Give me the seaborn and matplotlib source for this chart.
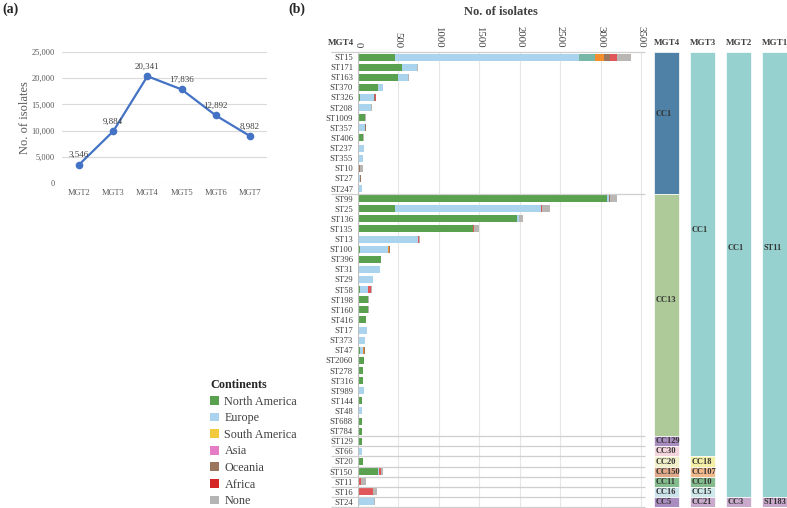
import matplotlib
matplotlib.use("Agg")
import matplotlib.pyplot as plt
from matplotlib.patches import Patch
from matplotlib.ticker import FuncFormatter
import seaborn as sns
import pandas as pd

# (a) isolates per MGT level
mgt_levels = ["MGT2", "MGT3", "MGT4", "MGT5", "MGT6", "MGT7"]
isolates_per_level = [3546, 9884, 20341, 17836, 12892, 8982]

# (b) sequence types, read top to bottom
st_names = ["ST15", "ST171", "ST163", "ST370", "ST326", "ST208", "ST1009", "ST357", "ST406",
            "ST237", "ST355", "ST10", "ST27", "ST247",
            "ST99", "ST25", "ST136", "ST135", "ST13", "ST100", "ST396", "ST31", "ST29", "ST58",
            "ST198", "ST160", "ST416", "ST17", "ST373", "ST47", "ST2060", "ST278", "ST316",
            "ST989", "ST144", "ST48", "ST688", "ST784",
            "ST129", "ST66", "ST20", "ST150", "ST11", "ST16", "ST24"]
north_america = [465, 548, 498, 247, 25, 0, 91, 0, 66, 0, 0, 12, 0, 0,
                 3075, 457, 1972, 1424, 12, 33, 292, 8, 8, 33, 131, 131, 107, 0, 0, 28, 74, 70, 70,
                 0, 53, 0, 53, 49,
                 53, 0, 62, 250, 0, 0, 0]
europe = [2272, 189, 128, 62, 181, 169, 0, 86, 0, 74, 62, 0, 29, 49,
          30, 1803, 25, 0, 733, 341, 0, 263, 177, 94, 0, 0, 0, 115, 90, 41, 0, 0, 0,
          74, 0, 53, 0, 0,
          0, 58, 0, 17, 0, 0, 205]
south_america = [198, 0, 0, 0, 0, 0, 0, 0, 0, 0, 0, 0, 0, 0,
                 0, 0, 0, 0, 0, 0, 0, 0, 0, 0, 0, 0, 0, 0, 0, 0, 0, 0, 0,
                 0, 0, 0, 0, 0,
                 0, 0, 8, 0, 0, 0, 0]
asia = [107, 0, 0, 0, 0, 0, 0, 0, 0, 0, 0, 0, 0, 0,
        0, 0, 0, 0, 0, 10, 0, 0, 0, 0, 0, 0, 0, 0, 0, 8, 0, 0, 0,
        0, 0, 0, 0, 0,
        0, 0, 0, 0, 0, 0, 0]
oceania = [74, 0, 0, 0, 6, 0, 0, 12, 0, 0, 0, 12, 12, 0,
           10, 0, 0, 0, 0, 10, 0, 0, 0, 0, 0, 0, 0, 0, 0, 8, 0, 0, 0,
           0, 0, 0, 0, 0,
           0, 0, 0, 0, 0, 0, 0]
africa = [83, 0, 0, 0, 8, 0, 0, 0, 0, 0, 0, 0, 0, 0,
          0, 17, 0, 12, 16, 0, 0, 0, 0, 37, 0, 0, 0, 0, 0, 0, 0, 0, 0,
          0, 0, 0, 0, 0,
          0, 0, 0, 17, 37, 189, 0]
no_continent = [173, 12, 12, 0, 0, 4, 8, 0, 8, 0, 0, 38, 4, 0,
                85, 95, 41, 58, 12, 0, 0, 4, 8, 8, 8, 8, 0, 0, 0, 0, 0, 0, 0,
                0, 4, 0, 0, 0,
                4, 0, 0, 24, 70, 49, 12]

continents = ["North America", "Europe", "South America", "Asia", "Oceania", "Africa", "None"]
bar_colors = ["#59A14F", "#AAD4EE", "#76B7A8", "#F28E2B", "#9C755F", "#E15759", "#BAB6B4"]
legend_colors = ["#59A14F", "#AAD4EE", "#F1C93B", "#E57CC6", "#9C755F", "#D62728", "#B5B5B5"]

# clonal complex of each ST at each MGT level
mgt4_cc = ["CC1"] * 14 + ["CC13"] * 24 + ["CC129", "CC30", "CC20", "CC150", "CC11", "CC16", "CC5"]
mgt3_cc = ["CC1"] * 40 + ["CC18", "CC107", "CC10", "CC15", "CC21"]
mgt2_cc = ["CC1"] * 44 + ["CC3"]
mgt1_cc = ["ST11"] * 44 + ["ST183"]

mgt4_colors = {"CC1": "#4F80A5", "CC13": "#AECA98", "CC129": "#A98CC0", "CC30": "#F4D4DD",
               "CC20": "#F2F0CA", "CC150": "#E0A98A", "CC11": "#84BC8E", "CC16": "#CDE3EB",
               "CC5": "#A98CC0"}
mgt3_colors = {"CC1": "#96D1D0", "CC18": "#F3F0A6", "CC107": "#F2B98C", "CC10": "#84BC8E",
               "CC15": "#CFE8EB", "CC21": "#C9A9CC"}
mgt2_colors = {"CC1": "#96D1D0", "CC3": "#C9A9CC"}
mgt1_colors = {"ST11": "#96D1D0", "ST183": "#C9A9CC"}

sns.set_style("white")
plt.rcParams["font.family"] = ["Liberation Serif", "DejaVu Serif"]

W, H = 787, 508
fig = plt.figure(figsize=(W / 100, H / 100), dpi=100)

# ---------------- panel (a) ----------------
ax_a = fig.add_axes([62 / W, 1 - 183.3 / H, 205 / W, 131.6 / H])
sns.lineplot(x=mgt_levels, y=isolates_per_level, marker="o", color="#4472C4", linewidth=1.6,
             markersize=5.5, markeredgewidth=0, ax=ax_a)
for i, v in enumerate(isolates_per_level):
    ax_a.annotate(f"{v:,}", (i, v), xytext=(0, 4), textcoords="offset points",
                  ha="center", va="bottom", fontsize=6.5, color="#404040")
ax_a.set_xlim(-0.5, len(mgt_levels) - 0.5)
ax_a.set_ylim(0, 25000)
ax_a.set_yticks(range(0, 25001, 5000))
ax_a.yaxis.set_major_formatter(FuncFormatter(lambda v, p: f"{int(v):,}"))
ax_a.yaxis.grid(True, color="#D9D9D9", linewidth=0.8)
ax_a.set_axisbelow(True)
for s in ax_a.spines.values():
    s.set_visible(False)
ax_a.tick_params(axis="both", length=0, labelsize=6, labelcolor="#595959")
ax_a.tick_params(axis="x", pad=4)
ax_a.tick_params(axis="y", pad=5)
ax_a.set_xlabel("")
ax_a.set_ylabel("No. of isolates", fontsize=9, color="#595959")
ax_a.yaxis.set_label_coords(-(62 - 31) / 205, 0.5)

fig.text(2 / W, 1 - 9 / H, "(a)", fontsize=10, fontweight="bold", va="center")
fig.text(288 / W, 1 - 9 / H, "(b)", fontsize=10, fontweight="bold", va="center")

# ---------------- panel (b) stacked bars ----------------
df = pd.DataFrame({"ST": st_names, "North America": north_america, "Europe": europe,
                   "South America": south_america, "Asia": asia, "Oceania": oceania,
                   "Africa": africa, "None": no_continent})
cum = df[continents].cumsum(axis=1)

x0, x1 = 357.7, 645
ax_b = fig.add_axes([x0 / W, 1 / H, (x1 - x0) / W, 455 / H])
for name, col in reversed(list(zip(continents, bar_colors))):
    sns.barplot(x=cum[name], y=df["ST"], order=st_names, orient="h", color=col,
                saturation=1, width=0.7, linewidth=0, errorbar=None, ax=ax_b)
n = len(st_names)
xmax = (x1 - x0) / 0.081
ax_b.set_xlim(0, xmax)
ax_b.set_ylim(n - 0.5, -0.5)
ax_b.set_xticks(range(0, 3501, 500))
ax_b.xaxis.grid(True, color="#E6E6E6", linewidth=0.8)
ax_b.set_axisbelow(True)
for s in ax_b.spines.values():
    s.set_visible(False)
ax_b.axvline(0, color="#BFBFBF", linewidth=0.8)
ax_b.tick_params(axis="x", top=True, labeltop=True, bottom=False, labelbottom=False,
                 length=0, labelsize=7.8, labelrotation=-90, pad=3, labelcolor="#404040")
ax_b.tick_params(axis="y", length=0, labelsize=6.2, pad=3.4, labelcolor="#404040")
ax_b.set_xlabel("")
ax_b.set_ylabel("")

# separators between MGT4 clusters
bounds = [-0.5] + [i + 0.5 for i in range(n - 1) if mgt4_cc[i] != mgt4_cc[i + 1]] + [n - 0.5]
ax_b.hlines(bounds, -(x0 - 331) / 0.081, xmax, colors="#CFCFCF", linewidth=0.9, clip_on=False)

fig.text((x0 + x1) / 2 / W, 1 - 12 / H, "No. of isolates", fontsize=9, fontweight="bold",
         ha="center", va="center", color="#404040")
fig.text(354 / W, 1 - 43 / H, "MGT4", fontsize=6.5, fontweight="bold", ha="right",
         va="center", color="#404040")

# ---------------- cluster strips ----------------
ax_c = fig.add_axes([648.5 / W, 1 / H, (W - 648.5) / W, 455 / H])
ax_c.set_xlim(-0.5, 3 + 12.5 / 36)
ax_c.set_ylim(n - 0.5, -0.5)
ax_c.axis("off")
strips = [("MGT4", mgt4_cc, mgt4_colors), ("MGT3", mgt3_cc, mgt3_colors),
          ("MGT2", mgt2_cc, mgt2_colors), ("MGT1", mgt1_cc, mgt1_colors)]
for k, (title, labels, cmap) in enumerate(strips):
    ax_c.text(k, -0.5 - 9 / 10.11, title, fontsize=6.5, fontweight="bold", ha="center",
              va="center", color="#404040", clip_on=False)
    start = 0
    for i in range(1, n + 1):
        if i == n or labels[i] != labels[start]:
            length = i - start
            ax_c.bar(k, length, bottom=start - 0.5, width=0.69, color=cmap[labels[start]],
                     edgecolor="white", linewidth=0.5)
            ty = start - 0.5 + (0.44 * length if length > 1 else 0.5)
            ax_c.text(k - 0.31, ty, labels[start], fontsize=6, fontweight="bold",
                      ha="left", va="center", color="#333333")
            start = i

# legend
handles = [Patch(facecolor=c, edgecolor="none") for c in legend_colors]
fig.legend(handles, continents, title="Continents", loc="upper left",
           bbox_to_anchor=(210 / W, 1 - 379 / H), frameon=False, fontsize=8.7,
           title_fontproperties={"weight": "bold", "size": 8.7}, alignment="left",
           handlelength=0.75, handleheight=0.75, handletextpad=0.45, labelspacing=0.38,
           borderpad=0, borderaxespad=0, labelcolor="#404040")

fig.savefig("out.png", dpi=100)
